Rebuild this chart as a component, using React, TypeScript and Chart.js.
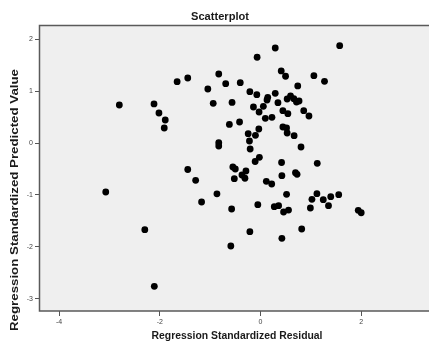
import React, { useEffect, useRef } from "react";
import { Chart, registerables } from "chart.js";

Chart.register(...registerables);

const chartTitle = "Scatterplot";
const xAxisTitle = "Regression Standardized Residual";
const yAxisTitle = "Regression Standardized Predicted Value";

const xTickValues = [-4, -2, 0, 2];
const yTickValues = [-3, -2, -1, 0, 1, 2];

// Regression standardized residuals
const residuals = [
  -2.804, -2.115, -2.017, -1.892, -1.912, -1.656, -1.445, -1.046, -0.829, -0.691,
  -0.402, -0.939, -0.565, -0.618, -0.829, -0.829, -1.445, -0.549, 0.293, 1.573,
  -0.067, 0.412, 0.498, 1.061, 1.272, 0.74, -0.211, -0.073, 0.293, 0.144,
  0.13, 0.597, 0.53, 0.662, 0.715, 0.766, 0.347, -0.14, 0.057, -0.028,
  0.445, 0.544, 0.859, 0.963, 0.096, 0.228, -0.416, -0.033, 0.445, 0.518,
  0.53, 0.668, -0.244, -0.1, -0.219, 0.805, -0.205, -0.022, -0.106, 0.419,
  1.128, -0.5, -0.289, -0.368, -0.309, -0.52, 0.425, 0.695, 0.727, 0.116,
  0.223, -0.865, -1.17, 0.518, 1.121, 1.022, 1.247, 1.396, 1.554, 1.351,
  0.991, -0.053, 0.274, 0.36, 0.459, 0.557, -0.573, 1.942, 2.001, -0.211,
  0.819, 0.425, -0.589, -1.288, -3.074, -2.298, -2.109,
];

// Regression standardized predicted values
const predicted = [
  0.734, 0.754, 0.58, 0.445, 0.291, 1.183, 1.255, 1.043, 1.332, 1.145,
  1.164, 0.767, 0.783, 0.359, 0.008, -0.056, -0.509, -0.461, 1.833, 1.877,
  1.654, 1.39, 1.288, 1.299, 1.191, 1.101, 0.991, 0.933, 0.96, 0.883,
  0.831, 0.908, 0.85, 0.856, 0.792, 0.811, 0.779, 0.696, 0.709, 0.599,
  0.625, 0.567, 0.625, 0.522, 0.478, 0.497, 0.407, 0.272, 0.31, 0.291,
  0.195, 0.143, 0.181, 0.15, 0.04, -0.075, -0.114, -0.274, -0.355, -0.374,
  -0.389, -0.499, -0.538, -0.615, -0.678, -0.686, -0.628, -0.571, -0.601, -0.736,
  -0.788, -0.977, -1.135, -0.987, -0.975, -1.083, -1.091, -1.033, -0.995, -1.207,
  -1.251, -1.187, -1.226, -1.207, -1.328, -1.29, -1.27, -1.295, -1.342, -1.708,
  -1.656, -1.835, -1.983, -0.717, -0.943, -1.669, -2.76,
];

const FAMILY = '"Liberation Sans", Arial, sans-serif';

// Draw text centred at (0,0) in the current transform, stretched along its run to a target length.
function drawStretched(ctx: CanvasRenderingContext2D, text: string, size: number, target: number) {
  ctx.font = `bold ${size}px ${FAMILY}`;
  const w = ctx.measureText(text).width;
  ctx.save();
  ctx.scale(target / w, 1);
  ctx.fillText(text, 0, 0);
  ctx.restore();
}

const framePlugin = {
  id: "spssFrame",
  beforeDraw(chart: any) {
    const { ctx, chartArea: a, width } = chart;
    ctx.save();
    ctx.fillStyle = "#efefef";
    ctx.fillRect(a.left, a.top, width - a.left + 2, a.bottom - a.top);
    ctx.restore();
  },
  beforeDatasetsDraw(chart: any) {
    const { ctx, chartArea: a, width } = chart;
    ctx.save();
    ctx.strokeStyle = "#5a5a5a";
    ctx.lineWidth = 1.5;
    ctx.beginPath();
    ctx.moveTo(width + 5, a.top + 0.5);
    ctx.lineTo(a.left - 0.5, a.top + 0.5);
    ctx.lineTo(a.left - 0.5, a.bottom);
    ctx.lineTo(width + 5, a.bottom);
    ctx.stroke();
    ctx.restore();
  },
  afterDraw(chart: any) {
    const { ctx } = chart;
    ctx.save();
    ctx.fillStyle = "#1a1a1a";
    ctx.textAlign = "center";
    ctx.textBaseline = "middle";
    ctx.save();
    ctx.translate(220, 17);
    drawStretched(ctx, chartTitle, 10.5, 58);
    ctx.restore();
    ctx.save();
    ctx.translate(237, 336);
    drawStretched(ctx, xAxisTitle, 10.5, 171);
    ctx.restore();
    ctx.save();
    ctx.translate(15, 200);
    ctx.rotate(-Math.PI / 2);
    drawStretched(ctx, yAxisTitle, 11, 262);
    ctx.restore();
    ctx.restore();
  },
};

export default function App() {
  const canvasRef = useRef<HTMLCanvasElement | null>(null);

  useEffect(() => {
    const canvas = canvasRef.current;
    if (!canvas) return;
    const points = residuals.map((x, i) => ({ x, y: predicted[i] }));
    const tickFont = { family: FAMILY, size: 7 };
    const chart = new Chart(canvas, {
      type: "scatter",
      data: {
        datasets: [
          {
            data: points,
            pointRadius: 3.4,
            pointHoverRadius: 3.4,
            backgroundColor: "#000000",
            borderWidth: 0,
          },
        ],
      },
      options: {
        responsive: false,
        animation: false,
        devicePixelRatio: 1,
        layout: { padding: { left: 0, top: 25, right: 0, bottom: 0 } },
        plugins: {
          legend: { display: false },
          tooltip: { enabled: false },
          title: { display: false },
        },
        scales: {
          x: {
            type: "linear",
            min: -4.38,
            max: 3.28,
            afterBuildTicks: (s: any) => {
              s.ticks = xTickValues.map((v) => ({ value: v }));
            },
            afterFit: (s: any) => {
              s.height = 31;
            },
            border: { display: false },
            grid: {
              display: true,
              drawOnChartArea: false,
              drawTicks: true,
              tickLength: 5,
              color: "#555555",
              lineWidth: 1,
            },
            ticks: { font: tickFont, color: "#444444", padding: 2, maxRotation: 0 },
          },
          y: {
            type: "linear",
            min: -3.236,
            max: 2.276,
            afterBuildTicks: (s: any) => {
              s.ticks = yTickValues.map((v) => ({ value: v }));
            },
            afterFit: (s: any) => {
              s.width = 40;
            },
            border: { display: false },
            grid: {
              display: true,
              drawOnChartArea: false,
              drawTicks: true,
              tickLength: 5,
              color: "#555555",
              lineWidth: 1,
            },
            ticks: { font: tickFont, color: "#444444", padding: 2 },
          },
        },
      },
      plugins: [framePlugin],
    } as any);
    return () => chart.destroy();
  }, []);

  return (
    <div style={{ position: "absolute", left: 0, top: 0, width: 429, height: 342, background: "#ffffff", overflow: "hidden" }}>
      <canvas ref={canvasRef} width={429} height={342} style={{ display: "block" }} />
    </div>
  );
}
